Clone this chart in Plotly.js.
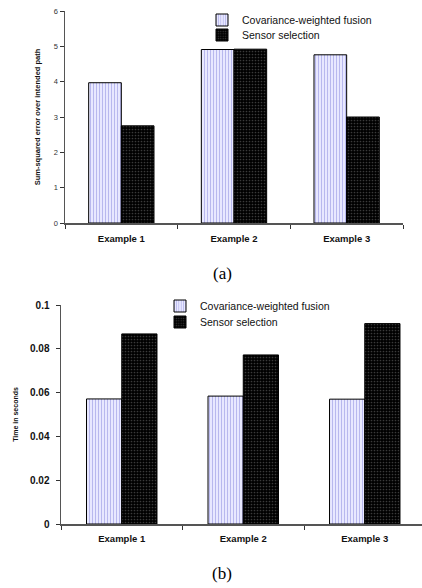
<!DOCTYPE html>
<html>
<head>
<meta charset="utf-8">
<script src="https://cdn.plot.ly/plotly-3.0.1.min.js"></script>
<style>html,body{margin:0;padding:0;background:#fff;}#chart{width:422px;height:588px;}</style>
</head>
<body>
<div id="chart"></div>
<script>
const categories = ["Example 1", "Example 2", "Example 3"];
const seriesNames = ["Covariance-weighted fusion", "Sensor selection"];
const errorFusion = [3.97, 4.91, 4.76];
const errorSelection = [2.75, 4.92, 3.0];
const timeFusion = [0.0571, 0.0584, 0.0570];
const timeSelection = [0.0868, 0.0772, 0.0915];
const panelLabels = ["(a)", "(b)"];

const fusionMarker = {
  color: "#e6e6ff",
  line: {color: "#000", width: 1},
  pattern: {shape: "|", bgcolor: "#e8e8ff", fgcolor: "#b8b8ee", size: 3, solidity: 0.35}
};
const selMarker = {
  color: "#000",
  line: {color: "#000", width: 1},
  pattern: {shape: ".", bgcolor: "#000", fgcolor: "#3a3a3a", size: 3, solidity: 0.25}
};

const traces = [
  {type: "bar", x: categories, y: errorFusion, name: seriesNames[0], marker: fusionMarker, xaxis: "x", yaxis: "y", legend: "legend"},
  {type: "bar", x: categories, y: errorSelection, name: seriesNames[1], marker: selMarker, xaxis: "x", yaxis: "y", legend: "legend2"},
  {type: "bar", x: categories, y: timeFusion, name: seriesNames[0], marker: fusionMarker, xaxis: "x2", yaxis: "y2", legend: "legend3"},
  {type: "bar", x: categories, y: timeSelection, name: seriesNames[1], marker: selMarker, xaxis: "x2", yaxis: "y2", legend: "legend4"}
];

const W = 422, H = 588;
const axisLine = {showline: true, linecolor: "#555", linewidth: 1.5, ticks: "outside", tickcolor: "#333", ticklen: 4, showgrid: false, zeroline: false};

function leg(xpx, ypx) {
  return {visible: true, x: xpx / W, xanchor: "left", y: (H - ypx) / H, yanchor: "middle", bgcolor: "rgba(0,0,0,0)", borderwidth: 0,
    font: {size: 10.5, color: "#111"}, itemclick: false, itemdoubleclick: false};
}

const layout = {
  width: W, height: H,
  margin: {l: 0, r: 0, t: 0, b: 0},
  paper_bgcolor: "#fff", plot_bgcolor: "#fff",
  font: {family: "Liberation Sans, Arial, sans-serif", color: "#000"},
  showlegend: true,
  barmode: "group", bargap: 0.42, bargroupgap: 0,
  hovermode: false,
  xaxis: Object.assign({}, axisLine, {
    domain: [65 / W, 403 / W], range: [-0.5, 2.5], anchor: "y",
    tickson: "boundaries", ticklabelstandoff: 6,
    tickfont: {size: 9.5, weight: "bold", color: "#111"}
  }),
  yaxis: Object.assign({}, axisLine, {
    domain: [(H - 223) / H, (H - 11) / H], range: [0, 6], dtick: 1, anchor: "x",
    tickfont: {size: 7.5, color: "#333"},
    title: {text: "Sum-squared error over intended path", standoff: 12, font: {size: 7.5, weight: "bold", color: "#111"}}
  }),
  xaxis2: Object.assign({}, axisLine, {
    domain: [61 / W, 1], range: [-0.5, -0.5 + 361 / 121.5], anchor: "y2",
    tickson: "boundaries", ticklabelstandoff: 5,
    tickfont: {size: 9.5, weight: "bold", color: "#111"}
  }),
  yaxis2: Object.assign({}, axisLine, {
    domain: [(H - 524) / H, (H - 305) / H], range: [0, 0.1], dtick: 0.02, anchor: "x2",
    tickfont: {size: 10, weight: "bold", color: "#111"}, ticklabelstandoff: 4,
    title: {text: "Time in seconds", standoff: 10, font: {size: 7, weight: "bold", color: "#111"}}
  }),
  legend: leg(202, 20),
  legend2: leg(202, 35),
  legend3: leg(160, 306),
  legend4: leg(160, 322),
  annotations: [
    {text: panelLabels[0], xref: "paper", yref: "paper", x: 222 / W, y: (H - 273) / H, showarrow: false,
      xanchor: "center", yanchor: "middle", font: {family: "Liberation Serif, Times New Roman, serif", size: 17, color: "#000"}},
    {text: panelLabels[1], xref: "paper", yref: "paper", x: 222 / W, y: (H - 573) / H, showarrow: false,
      xanchor: "center", yanchor: "middle", font: {family: "Liberation Serif, Times New Roman, serif", size: 17, color: "#000"}}
  ]
};

Plotly.newPlot("chart", traces, layout, {displayModeBar: false, staticPlot: true});
</script>
</body>
</html>
